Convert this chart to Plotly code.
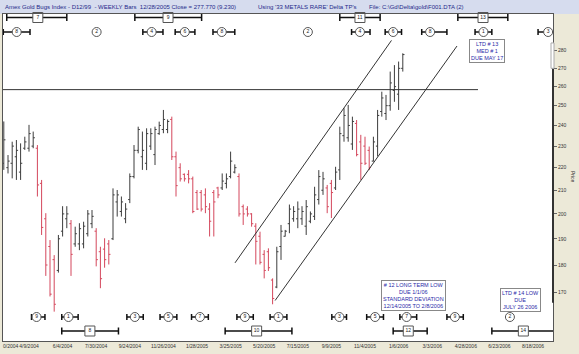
import plotly.graph_objects as go
import math

# ---------------- data (weekly OHLC, Amex Gold Bugs Index) ----------------
opens = [222, 220, 222, 225, 218, 229, 229, 230, 229, 213, 198, 187, 182, 178, 193, 198, 196, 188, 188, 188,
         192, 196, 193, 185, 186, 188, 190, 205, 201, 198, 206, 216, 228, 225, 222, 230, 226, 236, 238, 238,
         243, 225, 220, 217, 217, 215, 209,
         209, 208, 202, 209, 211, 211, 213, 216, 218, 216, 203, 202, 200, 195, 191, 184, 185, 174.5, 172, 187,
         191, 196, 198, 198, 198, 195, 197, 199, 206, 210, 211, 213, 211, 219, 235, 234, 231, 241, 232, 230,
         228, 223, 230, 247, 246, 250, 258, 256, 270]
highs = [242, 225.8, 232.1, 232.9, 231.3, 234.5, 240.3, 237, 230.5, 214.5, 200.3, 189.5, 183.7, 191.5, 203.2, 203.2, 197.5, 194.8, 196.2, 196.8,
         201.6, 201.6, 194.2, 186.9, 190.2, 189.5, 210.8, 210.1, 207.3, 204.5, 217.4, 230.5, 239.4, 237, 238.6, 238.6, 239.4, 241.9, 247.8, 243,
         244.4, 227.4, 222, 217.4, 218.9, 216, 210.1,
         210.1, 210.8, 204.5, 210.1, 211.5, 217.4, 217.4, 227.4, 221.5, 217.4, 203.9, 203.2, 200.3, 196.2, 192.8, 185.6, 186.3, 175.1, 186.9, 195.5,
         193.5, 203.9, 203.2, 205.2, 203.2, 205.8, 201, 211.5, 218.9, 218.1, 212.3, 214.5, 220.4, 239.4, 248.7, 250.4, 244.4, 242.7, 235.4, 234.5,
         229.8, 234.5, 247.8, 257.3, 255.6, 268.2, 271.8, 273.8, 278.5]
lows = [219, 217.4, 215.2, 214.5, 214.5, 228.2, 227.4, 229, 207.3, 191.5, 176, 168.7, 163.5, 177.2, 190.9, 194.2, 176, 186.9, 185.6, 186.3,
        190.9, 194.2, 179.5, 171.6, 179, 180.2, 189.5, 198.9, 198.9, 196.2, 204.5, 215.2, 226.6, 219, 218.9, 228.2, 221.2, 235.4, 236.2, 236.2,
        223.5, 207.3, 213.8, 213.8, 213, 200.3, 201.6,
        201, 200.3, 190.9, 190.9, 206.6, 210.1, 210.8, 215.2, 217.4, 198.9, 195.5, 198.9, 194.8, 180.2, 180.2, 175.1, 177.8, 166, 171.6, 181.9,
        190.9, 192.2, 196.8, 194.2, 195.5, 191.5, 196.2, 197.5, 203.9, 208, 200.3, 198.3, 210.1, 214.5, 232.1, 232.1, 228.2, 225.2, 214.5, 221.2,
        218.9, 222.8, 225.2, 244.4, 242.7, 247.4, 252, 247.8, 268.2]
closes = [233, 223, 230, 228, 222, 232, 236, 234, 212.3, 194.5, 180, 169.5, 166, 190, 200, 200, 184, 192, 194, 195,
          200, 199, 182, 175, 182, 184, 208, 208, 205, 202, 216, 228, 238, 228, 236, 236, 238, 240, 243, 242,
          225, 212, 215, 215, 215, 201, 202,
          202, 203, 197, 205, 208, 214, 215, 223, 220, 200, 200, 200, 196, 189, 181, 178, 179, 168, 185, 193,
          193, 202, 201, 202, 201, 203, 200, 208, 216, 215, 203, 209, 218, 236, 245, 240, 242, 226, 222, 222,
          220, 232, 245, 254, 250, 262, 260, 270, 277.77]
first_bar = 2
bar_index = list(range(first_bar, first_bar + len(closes)))

tick_pos = [8, 16, 24, 32, 40, 48, 56, 64, 72, 80, 88, 96, 104, 112, 120, 128]
tick_labels = ["4/9/2004", "6/4/2004", "7/30/2004", "9/24/2004", "11/26/2004", "1/28/2005",
               "3/25/2005", "5/20/2005", "7/15/2005", "9/9/2005", "11/4/2005", "1/6/2006", "3/3/2006",
               "4/28/2006", "6/23/2006", "8/18/2006"]
first_label = "0/2004"   # visible part of the left-most date label
price_ticks = [170, 180, 190, 200, 210, 220, 230, 240, 250, 260, 270, 280]

upper_ch_x = [57.05, 94.3]
upper_ch_y = [180.8, 286.0]
lower_ch_x = [66.6, 109.9]
lower_ch_y = [167.3, 282.7]
resist_x = [1.81, 114.9]
resist_y = [258.4, 258.4]

# cycle markers
top_box_lbl = ["7", "9", "11", "13"]
top_box_c = [10.1, 41.1, 86.8, 116.1]
top_box_l = [2.7, 33.2, 82.0, 110.1]
top_box_r = [17.0, 49.1, 91.6, 122.0]

top_cir_lbl = ["8", "2", "4", "6", "8", "2", "4", "6", "8", "1", "3"]
top_cir_c = [5.07, 24.1, 37.2, 45.1, 53.9, 74.4, 86.8, 94.7, 103.5, 116.2, 131.6]
top_cir_l = [1.88, 24.1, 35.1, 42.8, 51.8, 74.4, 84.8, 92.8, 101.5, 114.2, 129.2]
top_cir_r = [8.24, 24.1, 39.9, 47.5, 57.0, 74.4, 89.2, 96.7, 107.5, 118.2, 133.5]

bot_cir_lbl = ["9", "1", "3", "5", "7", "9", "1", "3", "5", "7", "9", "2"]
bot_cir_c = [9.8, 17.4, 33.2, 41.2, 48.7, 59.4, 67.4, 81.9, 90.4, 97.9, 109.4, 122.5]
bot_cir_l = [8.6, 15.8, 31.3, 39.2, 46.7, 57.5, 65.4, 80.1, 88.4, 96.3, 107.5, 122.5]
bot_cir_r = [11.8, 19.7, 35.2, 43.2, 50.7, 61.4, 69.4, 83.6, 92.4, 100.3, 111.4, 122.5]

bot_box_lbl = ["8", "10", "12", "14"]
bot_box_c = [22.5, 62.2, 98.3, 125.7]
bot_box_l = [15.8, 54.7, 94.7, 118.2]
bot_box_r = [29.3, 70.6, 102.8, 133.2]

# ---------------- figure ----------------
W, H = 579, 354
ML, MR, MT, MB = 3, 26, 14, 13
PW, PH = W - ML - MR, H - MT - MB
FONT = "Liberation Sans, Arial, sans-serif"
BLUE = "#2a2aa8"

fig = go.Figure()

fig.add_trace(go.Ohlc(
    x=bar_index, open=opens, high=highs, low=lows, close=closes,
    increasing=dict(line=dict(color="#3c3c3c", width=1)),
    decreasing=dict(line=dict(color="#d4475c", width=1)),
    tickwidth=0.4, showlegend=False, hoverinfo="skip"))

for xs, ys in [(upper_ch_x, upper_ch_y), (lower_ch_x, lower_ch_y), (resist_x, resist_y)]:
    fig.add_trace(go.Scatter(x=xs, y=ys, mode="lines", line=dict(color="#333333", width=1),
                             showlegend=False, hoverinfo="skip"))


def row(lbls, c, l, r, yfrac, symbol, size, thick, cap):
    fig.add_trace(go.Scatter(
        x=c, y=[yfrac] * len(c), yaxis="y2", mode="markers+text", text=lbls,
        textposition="middle center", textfont=dict(size=5, color="#222", family=FONT),
        marker=dict(symbol=symbol, size=size, color="white", line=dict(color="#555", width=1)),
        error_x=dict(type="data", symmetric=False,
                     array=[b - a for a, b in zip(c, r)],
                     arrayminus=[a - b for a, b in zip(c, l)],
                     color="#111", thickness=thick, width=cap),
        cliponaxis=False, showlegend=False, hoverinfo="skip"))


def yf(py):
    return (H - MB - py) / PH


row(top_box_lbl, top_box_c, top_box_l, top_box_r, yf(17.5), "square", 10, 1.5, 3.5)
row(top_cir_lbl, top_cir_c, top_cir_l, top_cir_r, yf(32), "circle", 9, 1.5, 3)
row(bot_cir_lbl, bot_cir_c, bot_cir_l, bot_cir_r, yf(317), "circle", 9, 1.5, 3)
row(bot_box_lbl, bot_box_c, bot_box_l, bot_box_r, yf(331), "square", 10, 1.5, 3.5)

ylo, yhi = math.log10(153.9), math.log10(302.0)

fig.update_layout(
    width=W, height=H, margin=dict(l=ML, r=MR, t=MT, b=MB, pad=0),
    paper_bgcolor="#ece9d8", plot_bgcolor="white",
    font=dict(family=FONT, size=5, color="#333"),
    xaxis=dict(range=[1.81, 132.76], tickmode="array", tickvals=tick_pos, ticktext=tick_labels,
               showgrid=False, zeroline=False, showline=True, mirror=True, linecolor="#555", linewidth=1,
               ticks="", tickfont=dict(size=5, color="#333"), ticklabeloverflow="allow",
               rangeslider=dict(visible=False), fixedrange=True),
    yaxis=dict(type="log", range=[ylo, yhi], side="right", tickmode="array", tickvals=price_ticks,
               ticktext=[str(v) for v in price_ticks], showgrid=False, zeroline=False,
               showline=True, mirror=True, linecolor="#555", linewidth=1,
               ticks="outside", ticklen=3, tickcolor="#666", tickfont=dict(size=5, color="#333")),
    yaxis2=dict(range=[0, 1], overlaying="y", visible=False),
    hovermode=False,
)

# left-most date label (only its tail shows at the edge)
fig.add_annotation(xref="paper", yref="paper", x=(0.5 - ML) / PW, y=yf(345.5), xanchor="left", yanchor="middle",
                   text=first_label, showarrow=False, font=dict(size=5, color="#333"))

# header band
fig.add_shape(type="rect", xref="paper", yref="paper", x0=-ML / PW, x1=1 + MR / PW, y0=1, y1=1 + MT / PH,
              fillcolor="#d6dcee", line=dict(width=0), layer="below")
hy = 1 + 7 / PH
hdr = dict(xref="paper", yref="paper", y=hy, xanchor="left", yanchor="middle", showarrow=False,
           font=dict(size=6, color="#1f2a8a"))
fig.add_annotation(x=0, text="Amex Gold Bugs Index - D12/99  - WEEKLY Bars  12/28/2005 Close = 277.770 (9.230)", **hdr)
fig.add_annotation(x=(256 - ML) / PW, text="Using '33 METALS RARE' Delta TP's", **hdr)
fig.add_annotation(x=(367 - ML) / PW, text="File: C:\\Gd\\Delta\\gold\\F001.DTA (2)", **hdr)

# right axis range indicator
fig.add_shape(type="line", xref="paper", yref="y", x0=1, x1=1, y0=166.5, y1=271,
              line=dict(color="#333", width=2))
fig.add_shape(type="rect", xref="paper", yref="y", x0=1 - 2 / PW, x1=1 + 1 / PW, y0=270, y1=284.5,
              fillcolor="white", line=dict(color="#aaa", width=1))

# axis title
fig.add_annotation(xref="paper", yref="paper", x=1 + 20 / PW, y=yf(177), text="Price", textangle=90,
                   xanchor="center", yanchor="middle", showarrow=False, font=dict(size=5, color="#333"))

# note boxes
box_style = dict(showarrow=False, bordercolor="#888", borderwidth=1, bgcolor="white", borderpad=1,
                 font=dict(size=5.5, color=BLUE), align="center", xref="paper", yref="paper",
                 xanchor="center", yanchor="middle")
fig.add_annotation(x=(487 - ML) / PW, y=yf(51), text="LTD # 13<br>MED # 1<br>DUE MAY 17", **box_style)
fig.add_annotation(x=(413 - ML) / PW, y=yf(295),
                   text="# 12 LONG TERM LOW<br>DUE 1/1/06<br>STANDARD DEVIATION<br>12/14/2005 TO 2/8/2006",
                   **box_style)
fig.add_annotation(x=(520 - ML) / PW, y=yf(299.5), text="LTD # 14 LOW<br>DUE<br>JULY 26 2006", **box_style)

fig.write_html("out.html")
